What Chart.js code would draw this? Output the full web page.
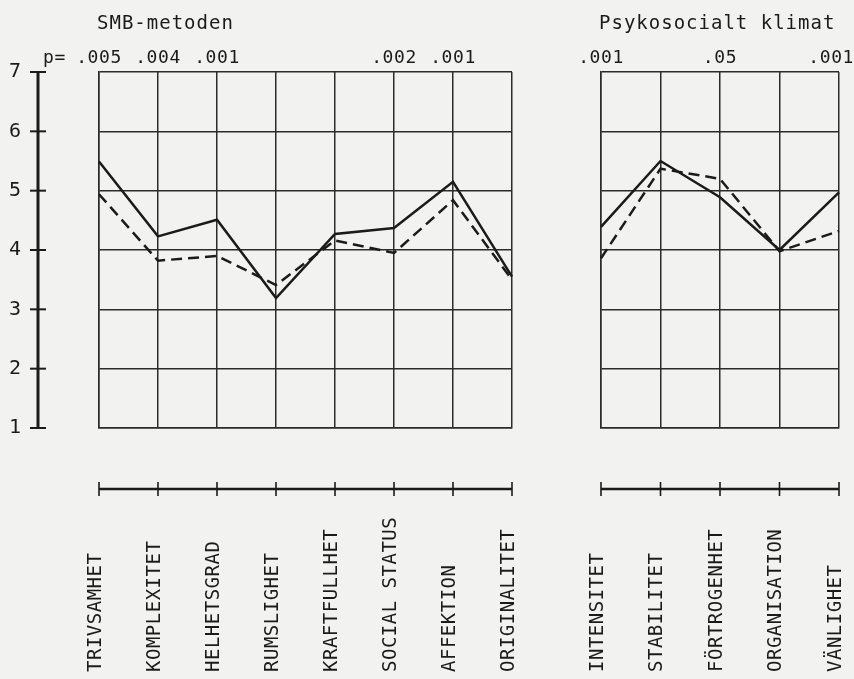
<!DOCTYPE html>
<html>
<head>
<meta charset="utf-8">
<script src="https://cdn.jsdelivr.net/npm/chart.js@4"></script>
<style>
  body { margin: 0; background: #f2f2f0; }
  #wrap { position: relative; width: 854px; height: 679px; }
  canvas { position: absolute; left: 0; top: 0; }
</style>
</head>
<body>
<div id="wrap">
  <canvas id="smb" width="854" height="679"></canvas>
  <canvas id="psyk" width="854" height="679"></canvas>
</div>
<script>
// values
const smbLabels = ['TRIVSAMHET', 'KOMPLEXITET', 'HELHETSGRAD', 'RUMSLIGHET', 'KRAFTFULLHET', 'SOCIAL STATUS', 'AFFEKTION', 'ORIGINALITET'];
const smbSolid = [5.49, 4.23, 4.51, 3.19, 4.27, 4.37, 5.15, 3.55];
const smbDashed = [4.94, 3.82, 3.90, 3.41, 4.16, 3.95, 4.84, 3.50];
const smbP = ['.005', '.004', '.001', '', '', '.002', '.001', ''];

const psykLabels = ['INTENSITET', 'STABILITET', 'FÖRTROGENHET', 'ORGANISATION', 'VÄNLIGHET'];
const psykSolid = [4.39, 5.50, 4.89, 4.00, 4.97];
const psykDashed = [3.86, 5.37, 5.20, 3.98, 4.32];
const psykP = ['.001', '', '.05', '', '.001'];

const yTicks = [1, 2, 3, 4, 5, 6, 7];

const ink = '#1b1b1b';
const mono = '"DejaVu Sans Mono", monospace';
Chart.defaults.font.family = mono;
Chart.defaults.color = ink;

function panelExtras(title, pvals, showP) {
  return {
    id: 'panelExtras',
    afterDraw(chart) {
      const ctx = chart.ctx, x = chart.scales.x, area = chart.chartArea;
      const labels = chart.data.labels;
      ctx.save();
      ctx.fillStyle = ink;
      ctx.strokeStyle = ink;
      ctx.textBaseline = 'alphabetic';
      ctx.textAlign = 'left';

      // panel title
      ctx.font = '19px ' + mono;
      ctx.letterSpacing = '1px';
      ctx.fillText(title, area.left - 2, 29);

      // p-values above columns
      ctx.font = '18px ' + mono;
      ctx.letterSpacing = '0.6px';
      if (showP) ctx.fillText('p=', 43, 63);
      pvals.forEach((p, i) => {
        if (!p) return;
        const w = ctx.measureText(p).width;
        let left = x.getPixelForValue(i) - w / 2;
        left = Math.min(left, chart.width - w);
        ctx.fillText(p, left, 63);
      });

      // separate scale bar under the grid
      const x0 = x.getPixelForValue(0), x1 = x.getPixelForValue(labels.length - 1);
      ctx.lineWidth = 2.5;
      ctx.beginPath();
      ctx.moveTo(x0, 489);
      ctx.lineTo(x1, 489);
      ctx.stroke();
      ctx.lineWidth = 1.6;
      labels.forEach((l, i) => {
        const px = x.getPixelForValue(i);
        ctx.beginPath();
        ctx.moveTo(px, 482);
        ctx.lineTo(px, 496);
        ctx.stroke();
      });

      // vertical category names
      ctx.font = '19px ' + mono;
      ctx.letterSpacing = '0.5px';
      ctx.textBaseline = 'middle';
      labels.forEach((l, i) => {
        ctx.save();
        ctx.translate(x.getPixelForValue(i) - 3, 672);
        ctx.rotate(-Math.PI / 2);
        ctx.fillText(l, 0, 0);
        ctx.restore();
      });
      ctx.restore();
    }
  };
}

const leftAxis = {
  id: 'leftAxis',
  afterDraw(chart) {
    const ctx = chart.ctx, y = chart.scales.y;
    ctx.save();
    ctx.strokeStyle = ink;
    ctx.lineWidth = 3;
    ctx.beginPath();
    ctx.moveTo(38, y.getPixelForValue(yTicks[yTicks.length - 1]));
    ctx.lineTo(38, y.getPixelForValue(yTicks[0]));
    ctx.stroke();
    ctx.lineWidth = 2;
    yTicks.forEach(v => {
      const py = y.getPixelForValue(v);
      ctx.beginPath();
      ctx.moveTo(30, py);
      ctx.lineTo(46, py);
      ctx.stroke();
    });
    ctx.restore();
  }
};

function lineSets(solid, dashed) {
  return [
    { data: solid, borderColor: ink, borderWidth: 2.5, pointRadius: 0, tension: 0, fill: false },
    { data: dashed, borderColor: ink, borderWidth: 2.5, borderDash: [11, 6], pointRadius: 0, tension: 0, fill: false }
  ];
}

function makeOptions(padding, showY) {
  const grid = { color: '#2b2b2b', lineWidth: 1.5, drawTicks: false };
  return {
    responsive: false,
    animation: false,
    layout: { padding: padding },
    plugins: { legend: { display: false }, tooltip: { enabled: false } },
    scales: {
      x: {
        grid: grid,
        border: { color: '#2b2b2b', width: 1.5 },
        ticks: { display: false },
        afterFit: s => { s.height = 0; }
      },
      y: {
        min: 1, max: 7,
        grid: grid,
        border: { color: '#2b2b2b', width: 1.5 },
        ticks: {
          display: showY, stepSize: 1, crossAlign: 'far',
          font: { size: 20, family: mono }, color: ink
        },
        afterFit: s => { s.width = showY ? 90 : 0; }
      }
    }
  };
}

new Chart(document.getElementById('smb'), {
  type: 'line',
  data: { labels: smbLabels, datasets: lineSets(smbSolid, smbDashed) },
  options: makeOptions({ left: 9, right: 342, top: 72, bottom: 251 }, true),
  plugins: [panelExtras('SMB-metoden', smbP, true), leftAxis]
});

new Chart(document.getElementById('psyk'), {
  type: 'line',
  data: { labels: psykLabels, datasets: lineSets(psykSolid, psykDashed) },
  options: makeOptions({ left: 601, right: 15, top: 72, bottom: 251 }, false),
  plugins: [panelExtras('Psykosocialt klimat', psykP, false)]
});
</script>
</body>
</html>
